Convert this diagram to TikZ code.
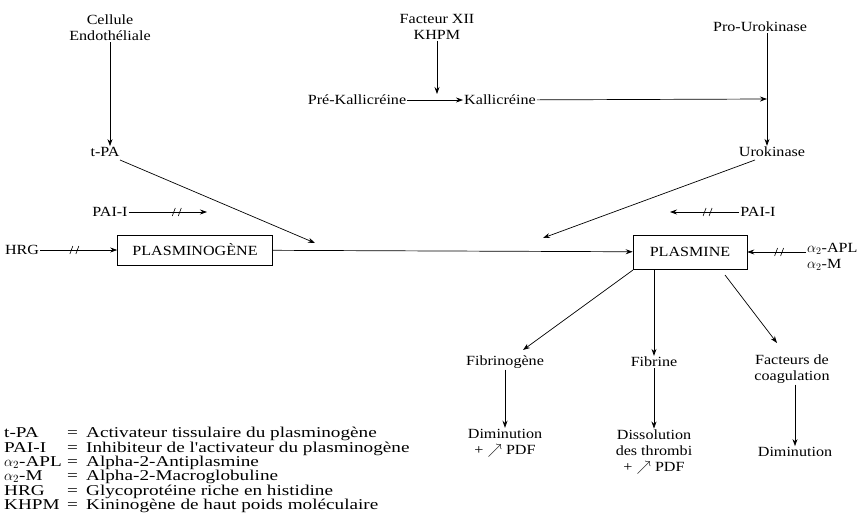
\documentclass[tikz,border=0pt]{standalone}
\usepackage{fontspec}
\setmainfont[FakeStretch=1.15]{Liberation Serif}
\newfontfamily\legfont[FakeStretch=1.28]{Liberation Serif}
\usetikzlibrary{arrows.meta}
\newcommand\legline[2]{\makebox[63pt][l]{#1}\makebox[19pt][l]{=}#2}
\begin{document}
\begin{tikzpicture}[x=1pt,y=-1pt,
  lbl/.style={inner sep=1pt,align=center,font=\fontsize{14}{16}\selectfont},
  boxn/.style={draw,line width=0.6pt,inner sep=2pt,font=\fontsize{14}{16}\selectfont},
  arr/.style={line width=0.7pt,-{Stealth[length=7pt,width=5pt]}},
  brk/.pic={\draw[-,line width=0.6pt] (-5,4) -- (-2,-4); \draw[-,line width=0.6pt] (1,4) -- (4,-4);}
]
\useasboundingbox (0,0) rectangle (863,527);
% nodes
\node[lbl] (cel) at (110,28) {Cellule\\Endothéliale};
\node[lbl] (tpa) at (105,152) {t-PA};
\node[lbl] (fxii) at (437,27) {Facteur XII\\KHPM};
\node[lbl] (prek) at (357,100) {Pré-Kallicréine};
\node[lbl] (kal) at (500,100) {Kallicréine};
\node[lbl] (prou) at (760,27) {Pro-Urokinase};
\node[lbl] (urok) at (772,152) {Urokinase};
\node[lbl] (pai1) at (110,212) {PAI-I};
\node[lbl] (pai2) at (758,212) {PAI-I};
\node[lbl] (hrg) at (22,250) {HRG};
\node[boxn,minimum width=155pt,minimum height=30pt] (plg) at (195,250) {PLASMINOGÈNE};
\node[boxn,minimum width=114pt,minimum height=34pt] (pls) at (690,252) {PLASMINE};
\node[lbl,anchor=west,align=left] (apl) at (806,257) {$\alpha_2$-APL\\$\alpha_2$-M};
\node[lbl] (fbg) at (505,362) {Fibrinogène};
\node[lbl] (fbn) at (654,362) {Fibrine};
\node[lbl] (fac) at (792,369) {Facteurs de\\coagulation};
\node[lbl] (dim1) at (505,443) {Diminution\\+ $\nearrow$ PDF};
\node[lbl] (dis) at (654,452) {Dissolution\\des thrombi\\+ $\nearrow$ PDF};
\node[lbl] (dim2) at (795,452) {Diminution};
\node[anchor=north west,inner sep=0pt,align=left,font=\legfont\fontsize{15}{14.4}\selectfont] (leg) at (4,427) {%
\legline{t-PA}{Activateur tissulaire du plasminogène}\\
\legline{PAI-I}{Inhibiteur de l'activateur du plasminogène}\\
\legline{$\alpha_2$-APL}{Alpha-2-Antiplasmine}\\
\legline{$\alpha_2$-M}{Alpha-2-Macroglobuline}\\
\legline{HRG}{Glycoprotéine riche en histidine}\\
\legline{KHPM}{Kininogène de haut poids moléculaire}};
% coordinates
\coordinate (j1) at (315,243);
\coordinate (j2) at (543,238);
\coordinate (pu) at (767,99);
\coordinate (fx) at (437,94);
\coordinate (pai1e) at (207,212);
\coordinate (pai2e) at (670,212);
\coordinate (tpas) at (120,160);
\coordinate (uros) at (755,160);
\coordinate (fbgin) at (523,350);
\coordinate (facin) at (777,343);
\coordinate (plssw) at (633,270);
\coordinate (plsse) at (725,275);
% connectors
\draw[arr] (cel) -- (cel |- tpa.north);
\draw[arr] (fxii) -- (fx);
\draw[arr] (prek) -- (kal);
\draw[arr] (kal) -- (pu);
\draw[arr] (prou.south -| pu) -- (urok.north -| pu);
\draw[arr] (tpas) -- (j1);
\draw[arr] (uros) -- (j2);
\draw[arr] (pai1) -- (pai1e) pic[pos=0.62]{brk};
\draw[arr] (pai2) -- (pai2e) pic[pos=0.45]{brk};
\draw[arr] (hrg) -- (plg) pic[pos=0.45]{brk};
\draw[arr] (apl.west |- pls) -- (pls) pic[pos=0.45]{brk};
\draw[arr] (plg) -- (pls);
\draw[arr] (plssw) -- (fbgin);
\draw[arr] (pls.south -| fbn) -- (fbn);
\draw[arr] (plsse) -- (facin);
\draw[arr] (fbg) -- (dim1);
\draw[arr] (fbn) -- (dis);
\draw[arr] (fac.south -| dim2) -- (dim2);
\end{tikzpicture}
\end{document}
